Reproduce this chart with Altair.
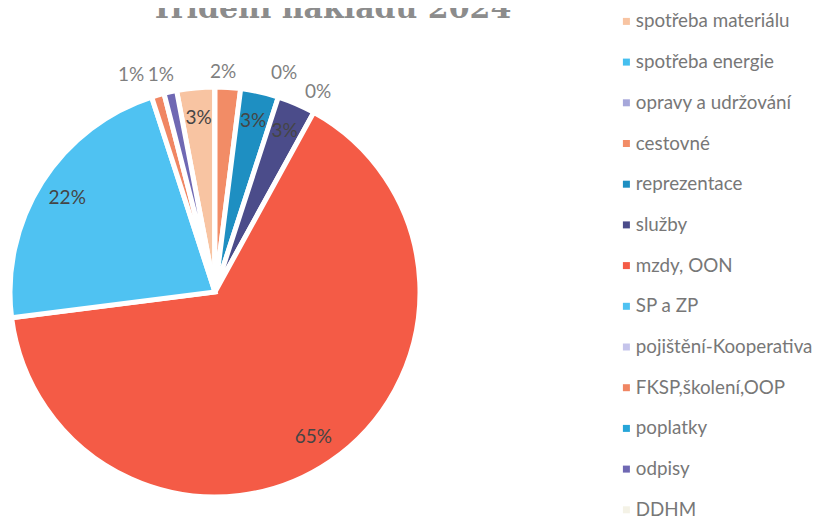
import math
import altair as alt
import pandas as pd

# ---- data ----
categories = ["spotřeba materiálu", "spotřeba energie", "opravy a udržování", "cestovné",
              "reprezentace", "služby", "mzdy, OON", "SP a ZP", "pojištění-Kooperativa",
              "FKSP,školení,OOP", "poplatky", "odpisy", "DDHM"]
shares = [3, 0, 0, 2, 3, 3, 65, 22, None, 1, None, 1, None]   # percent, None = blank cell
colors = ["#F8C4A2", "#45BFEF", "#A6A7DA", "#F28C66", "#1E8FC2", "#4B4C8A", "#F45B46",
          "#4FC2F2", "#C5C4EB", "#F08663", "#26A5D8", "#6F68B3", "#F4F2E6"]
title_text = "Třídění nákladů 2024"

df = pd.DataFrame({
    "idx": list(range(len(categories))),
    "cat": categories,
    "value": shares,
    "label": ["" if v is None else f"{v}%" for v in shares],
})

# ---- layout / style ----
FIRST_SLICE_DEG = -10.8
start = math.radians(FIRST_SLICE_DEG)
PLOT_W, PLOT_H = 414, 416
OUTSIDE_NUDGE = {  # (dx, dy) for labels placed outside the pie
    "cestovné": (-6, 5),
    "odpisy": (-5, 3),
    "FKSP,školení,OOP": (-21, -1),
    "spotřeba energie": (69, 6),
    "opravy a udržování": (103, 25),
}

base = alt.Chart(df).encode(
    theta=alt.Theta("value:Q", stack=True,
                    scale=alt.Scale(range=[start, start + 2 * math.pi])),
    order=alt.Order("idx:Q"),
)

arc = base.mark_arc(outerRadius=205, stroke="white", strokeWidth=5).encode(
    color=alt.Color(
        "cat:N",
        sort=categories,
        scale=alt.Scale(domain=categories, range=colors),
        legend=alt.Legend(
            title=None, orient="none", legendX=609, legendY=-72,
            symbolType="square", symbolSize=49, symbolStrokeWidth=0,
            labelFont="Lato", labelFontSize=18.8, labelColor="#777777",
            rowPadding=20.7, labelOffset=0, labelLimit=400, padding=0,
        ),
    )
)

inside = base.mark_text(radius=175, font="Lato", fontSize=19, color="#454545").transform_calculate(
    lab="datum.value >= 3 ? datum.label : ''"
).encode(text="lab:N")

layers = [arc, inside]
for cat, (dx, dy) in OUTSIDE_NUDGE.items():
    layers.append(
        base.mark_text(radius=225, dx=dx, dy=dy, font="Lato", fontSize=19, color="#7f7f7f")
        .transform_calculate(lab=f"datum.cat == '{cat}' ? datum.label : ''")
        .encode(text="lab:N")
    )

chart = alt.layer(*layers).properties(
    width=PLOT_W, height=PLOT_H,
    title=alt.Title(title_text, font="DejaVu Serif", fontSize=30, fontWeight="bold",
                    color="#8c8c8c", anchor="middle", frame="group", dx=116, dy=36,
                    baseline="alphabetic", offset=0),
    padding={"left": 0, "top": 76, "right": 391, "bottom": 18},
    autosize=alt.AutoSizeParams(type="none"),
).configure_view(stroke=None)

chart.save("out.html", embed_options={"renderer": "svg", "actions": False})
